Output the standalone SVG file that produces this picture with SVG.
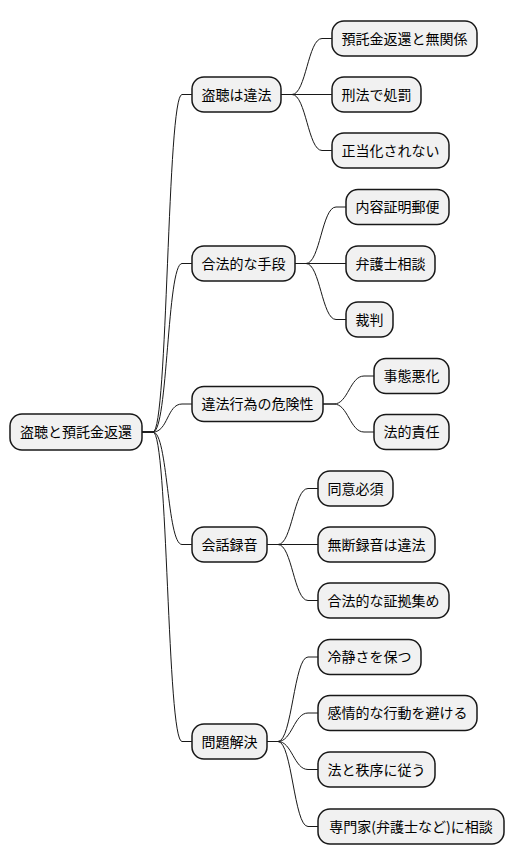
<svg xmlns="http://www.w3.org/2000/svg" width="513" height="865" viewBox="0 0 513 865">
<style>
.n rect{fill:#f1f1f1;stroke:#181818;stroke-width:1.5}
.n text{font-family:"Noto Sans CJK JP","Noto Sans",sans-serif;font-size:14px;fill:#000;text-anchor:middle}
#edges path{fill:none;stroke:#181818;stroke-width:1}
</style>
<rect width="513" height="865" fill="#fff"/>
<g id="edges">
<path d="M142,432 L153,432 C168,432 167,94.5 182,94.5 L192,94.5"/>
<path d="M142,432 L153,432 C168,432 167,263.5 182,263.5 L192,263.5"/>
<path d="M142,432 L153,432 C168,432 167,404 182,404 L192,404"/>
<path d="M142,432 L153,432 C168,432 167,544.5 182,544.5 L192,544.5"/>
<path d="M142,432 L153,432 C168,432 167,741.5 182,741.5 L192,741.5"/>
<path d="M281,94.5 L292,94.5 C306,94.5 308,38.5 322,38.5 L332,38.5"/>
<path d="M281,94.5 L332,94.5"/>
<path d="M281,94.5 L292,94.5 C306,94.5 308,150.5 322,150.5 L332,150.5"/>
<path d="M295,263.5 L306,263.5 C320,263.5 322,207 336,207 L346,207"/>
<path d="M295,263.5 L346,263.5"/>
<path d="M295,263.5 L306,263.5 C320,263.5 322,319.5 336,319.5 L346,319.5"/>
<path d="M323,404 L334,404 C348,404 350,376 364,376 L374,376"/>
<path d="M323,404 L334,404 C348,404 350,432 364,432 L374,432"/>
<path d="M267,544.5 L278,544.5 C292,544.5 294,488.5 308,488.5 L318,488.5"/>
<path d="M267,544.5 L318,544.5"/>
<path d="M267,544.5 L278,544.5 C292,544.5 294,600.5 308,600.5 L318,600.5"/>
<path d="M267,741.5 L278,741.5 C292,741.5 294,657 308,657 L318,657"/>
<path d="M267,741.5 L278,741.5 C292,741.5 294,713 308,713 L318,713"/>
<path d="M267,741.5 L278,741.5 C292,741.5 294,769.5 308,769.5 L318,769.5"/>
<path d="M267,741.5 L278,741.5 C292,741.5 294,826.5 308,826.5 L318,826.5"/>
</g>
<g id="root" class="n"><rect x="10" y="414" width="132" height="36" rx="12"/><text x="76" y="437">盗聴と預託金返還</text></g>
<g id="n1" class="n"><rect x="192" y="77" width="89" height="35" rx="12"/><text x="236.5" y="99.5">盗聴は違法</text></g>
<g id="n1a" class="n"><rect x="332" y="21" width="145" height="35" rx="12"/><text x="404.5" y="43.5">預託金返還と無関係</text></g>
<g id="n1b" class="n"><rect x="332" y="77" width="89" height="35" rx="12"/><text x="376.5" y="99.5">刑法で処罰</text></g>
<g id="n1c" class="n"><rect x="332" y="133" width="117" height="35" rx="12"/><text x="390.5" y="155.5">正当化されない</text></g>
<g id="n2" class="n"><rect x="192" y="246" width="103" height="35" rx="12"/><text x="243.5" y="268.5">合法的な手段</text></g>
<g id="n2a" class="n"><rect x="346" y="189.5" width="103" height="35" rx="12"/><text x="397.5" y="212">内容証明郵便</text></g>
<g id="n2b" class="n"><rect x="346" y="246" width="89" height="35" rx="12"/><text x="390.5" y="268.5">弁護士相談</text></g>
<g id="n2c" class="n"><rect x="346" y="302" width="47" height="35" rx="12"/><text x="369.5" y="324.5">裁判</text></g>
<g id="n3" class="n"><rect x="192" y="386.5" width="131" height="35" rx="12"/><text x="257.5" y="409">違法行為の危険性</text></g>
<g id="n3a" class="n"><rect x="374" y="358.5" width="75" height="35" rx="12"/><text x="411.5" y="381">事態悪化</text></g>
<g id="n3b" class="n"><rect x="374" y="414.5" width="75" height="35" rx="12"/><text x="411.5" y="437">法的責任</text></g>
<g id="n4" class="n"><rect x="192" y="527" width="75" height="35" rx="12"/><text x="229.5" y="549.5">会話録音</text></g>
<g id="n4a" class="n"><rect x="318" y="471" width="75" height="35" rx="12"/><text x="355.5" y="493.5">同意必須</text></g>
<g id="n4b" class="n"><rect x="318" y="527" width="117" height="35" rx="12"/><text x="376.5" y="549.5">無断録音は違法</text></g>
<g id="n4c" class="n"><rect x="318" y="583" width="131" height="35" rx="12"/><text x="383.5" y="605.5">合法的な証拠集め</text></g>
<g id="n5" class="n"><rect x="192" y="724" width="75" height="35" rx="12"/><text x="229.5" y="746.5">問題解決</text></g>
<g id="n5a" class="n"><rect x="318" y="639.5" width="103" height="35" rx="12"/><text x="369.5" y="662">冷静さを保つ</text></g>
<g id="n5b" class="n"><rect x="318" y="695.5" width="159" height="35" rx="12"/><text x="397.5" y="718">感情的な行動を避ける</text></g>
<g id="n5c" class="n"><rect x="318" y="752" width="117" height="35" rx="12"/><text x="376.5" y="774.5">法と秩序に従う</text></g>
<g id="n5d" class="n"><rect x="318" y="809" width="186" height="35" rx="12"/><text x="411" y="831.5">専門家(弁護士など)に相談</text></g>
</svg>
